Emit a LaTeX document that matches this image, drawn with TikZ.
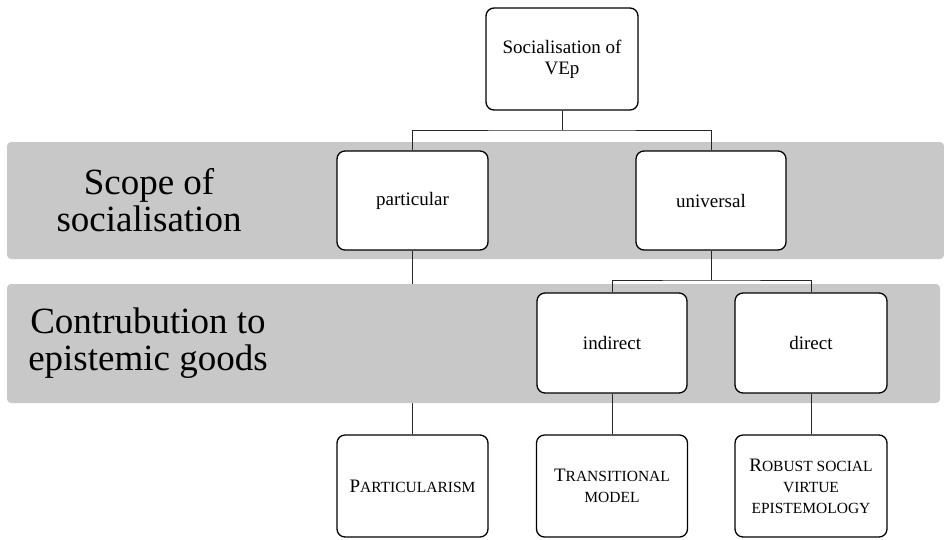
\documentclass[tikz,border=0pt]{standalone}
\usepackage{fontspec}
\setmainfont{Liberation Serif}
\definecolor{bandgray}{RGB}{200,200,200}
\begin{document}
\begin{tikzpicture}[x=1pt,y=-1pt,
  box/.style={draw=black, line width=1.3pt, rounded corners=8pt, fill=white, align=center, inner sep=0pt, minimum width=151pt, minimum height=100pt, font=\fontsize{19}{21}\selectfont},
  scbox/.style={box, font=\fontsize{15.5}{21}\selectfont},
  band/.style={fill=bandgray, rounded corners=4pt},
  conn/.style={draw=black!85, line width=1pt},
  lab/.style={align=center, inner sep=0pt, font=\fontsize{37}{37}\selectfont}]
\newcommand{\bigC}[1]{{\fontsize{19}{21}\selectfont #1}}
\useasboundingbox (0,0) rectangle (944,539);
% band 1
\fill[band] (7,142) rectangle (944,259);
% nodes
\node[box, minimum width=152pt, minimum height=102pt] (top) at (562,59) {Socialisation of\\VEp};
\node[box, minimum height=99pt] (particular) at (412.5,200.5) {particular};
\node[box, minimum width=150pt, minimum height=99pt] (universal) at (711,200.5) {universal};
\node[scbox, minimum height=102pt] (particularism) at (412.5,486) {\bigC{P}ARTICULARISM};
\node[scbox, minimum height=102pt] (transitional) at (612,486) {\bigC{T}RANSITIONAL\\MODEL};
\node[scbox, minimum width=152pt, minimum height=102pt] (robust) at (811,486) {\bigC{R}OBUST SOCIAL\\VIRTUE\\EPISTEMOLOGY};
\draw[conn] (particular.south) -- (particularism.north);
% band 2
\fill[band] (7,284) rectangle (940,403);
\node[box, minimum width=150pt] (indirect) at (612,343) {indirect};
\node[box, minimum width=152pt] (direct) at (811,343) {direct};
% labels
\node[lab] (scope) at (149,200) {Scope of\\socialisation};
\node[lab] (contrib) at (148,343) {Contrubution to\\epistemic goods};
% connectors
\coordinate (j1) at (562,130);
\coordinate (j2) at (711,280);
\draw[conn] (top.south) -- (j1);
\draw[conn] (particular.north) |- (j1) -| (universal.north);
\draw[conn] (universal.south) -- (j2);
\draw[conn] (indirect.north) |- (j2) -| (direct.north);
\draw[conn] (indirect.south) -- (transitional.north);
\draw[conn] (direct.south) -- (robust.north);
\end{tikzpicture}
\end{document}
